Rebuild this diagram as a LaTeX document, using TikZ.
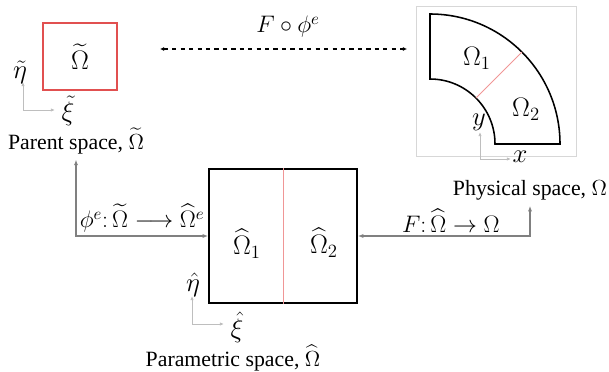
\RequirePackage{fix-cm}
\documentclass[tikz,border=0pt]{standalone}
\usepackage{fontspec}
\setmainfont{Liberation Serif}
\usepackage{amsmath}
\usetikzlibrary{arrows.meta}

\definecolor{connGray}{RGB}{128,128,128}
\definecolor{axisGray}{RGB}{190,190,190}
\definecolor{frameGray}{RGB}{215,215,215}
\definecolor{boxRed}{RGB}{225,80,80}
\definecolor{cutPink}{RGB}{240,150,150}

\tikzset{
  conn/.style={draw=connGray, line width=1.1pt,
    {Latex[length=4pt,width=3pt]}-{Latex[length=4pt,width=3pt]}},
  axis/.style={draw=axisGray, line width=0.6pt, -{Latex[length=3pt,width=2.5pt]}},
  lbl/.style={font=\fontsize{15.5}{18}\selectfont, inner sep=1pt},
  sym/.style={font=\fontsize{19}{22}\selectfont, inner sep=1pt},
  maplbl/.style={font=\fontsize{17}{20}\selectfont, inner sep=1pt},
  outline/.style={draw=black, line width=1.1pt},
}

\begin{document}
\begin{tikzpicture}[x=0.025cm, y=-0.025cm]
  \useasboundingbox (0,0) rectangle (609,372);
  % Parent space
  \draw[draw=boxRed, line width=0.9pt] (43,23) rectangle (117,90);
  \node[sym] (omt) at (80,57) {$\widetilde{\Omega}$};
  \coordinate (po) at (23,110);
  \draw[axis] (po) -- ++(0,-28);
  \draw[axis] (po) -- ++(32,0);
  \node[sym] (etat) at (20,72) {$\tilde{\eta}$};
  \node[sym] (xit) at (68,111) {$\tilde{\xi}$};
  \node[lbl] (parentlbl) at (76,141) {Parent space, $\widetilde{\Omega}$};
  % Physical space
  \draw[draw=frameGray, line width=0.6pt] (416,6) rectangle (576,156);
  \coordinate (c) at (430,144);
  \draw[outline] (430,14) -- (430,79) arc[start angle=-90, end angle=0, radius=65]
    -- (560,144) arc[start angle=0, end angle=-90, radius=130] -- cycle;
  \draw[draw=cutPink, line width=0.6pt] ([shift={(-45:65)}]c) -- ([shift={(-45:130)}]c);
  \node[sym] (om1) at (477,58) {$\Omega_1$};
  \node[sym] (om2) at (526,109) {$\Omega_2$};
  \coordinate (xo) at (480,159);
  \draw[axis] (xo) -- ++(0,-27);
  \draw[axis] (xo) -- ++(31,0);
  \node[sym] (ylbl) at (479,122) {$y$};
  \node[sym] (xlbl) at (520,157) {$x$};
  \node[lbl] (physlbl) at (530,190) {Physical space, $\Omega$};
  % Parametric space
  \node[outline, minimum width=3.7cm, minimum height=3.35cm] (param) at (283,236) {};
  \draw[draw=cutPink, line width=0.6pt] (param.north) -- (param.south);
  \node[sym] (omh1) at (247,244) {$\widehat{\Omega}_1$};
  \node[sym] (omh2) at (324,243) {$\widehat{\Omega}_2$};
  \coordinate (ho) at (192,324);
  \draw[axis] (ho) -- ++(0,-28);
  \draw[axis] (ho) -- ++(32,0);
  \node[sym] (etah) at (193,285) {$\hat{\eta}$};
  \node[sym] (xih) at (237,327) {$\hat{\xi}$};
  \node[lbl] (paramlbl) at (233,358) {Parametric space, $\widehat{\Omega}$};
  % Maps
  \coordinate (dl) at (160,49);
  \coordinate (dr) at (407,49);
  \draw[dashed, line width=0.8pt,
    {Latex[length=3pt,width=3pt]}-{Latex[length=3pt,width=3pt]}] (dl) -- (dr);
  \node[maplbl] (comp) at (288,27) {$F\circ\phi^{e}$};
  \draw[conn] ([yshift=-3pt]parentlbl.south) |- (param.west)
    node[maplbl, pos=0.75, above=1pt] (phimap) {$\phi^{e}{:}\,\widetilde{\Omega}\longrightarrow\widehat{\Omega}^{e}$};
  \draw[conn] ([yshift=-3pt]physlbl.south) |- (param.east)
    node[maplbl, pos=0.73, above=1pt] (fmap) {$F{:}\,\widehat{\Omega}\rightarrow\Omega$};
\end{tikzpicture}
\end{document}
